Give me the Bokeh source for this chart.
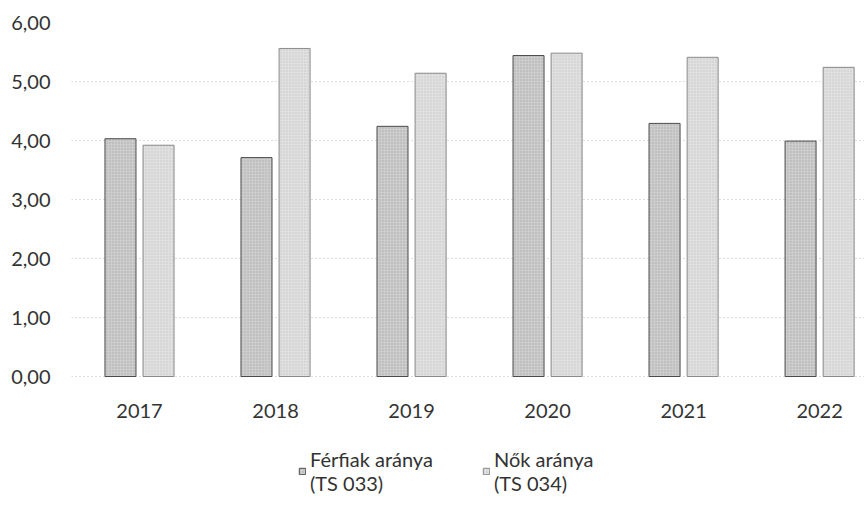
from bokeh.plotting import figure
from bokeh.models import ColumnDataSource, Legend, LegendItem, FixedTicker
from bokeh.core.properties import value
from bokeh.embed import file_html
from bokeh.resources import INLINE

years = ["2017", "2018", "2019", "2020", "2021", "2022"]
ferfiak = [4.03, 3.71, 4.24, 5.44, 4.29, 3.99]
nok = [3.92, 5.56, 5.14, 5.48, 5.41, 5.24]
y_ticks = [0, 1, 2, 3, 4, 5, 6]
y_tick_labels = ["0,00", "1,00", "2,00", "3,00", "4,00", "5,00", "6,00"]
series_labels = ["Férfiak aránya\n(TS 033)", "Nők aránya\n(TS 034)"]

FONT = "Lato"
TXT = "#333333"
OFF = 0.14
BAR_W = 0.228
LABEL_Y = -0.585

idx = list(range(len(years)))
src = ColumnDataSource(dict(
    x=idx,
    xf=[i - OFF for i in idx],
    xn=[i + OFF for i in idx],
    year=years, f=ferfiak, n=nok,
    ly=[LABEL_Y] * len(years),
))

p = figure(x_range=(-0.5, 5.33), y_range=(-2.305, 6.0),
           width=864, height=512, output_backend="svg", toolbar_location=None,
           min_border_left=71, min_border_right=0, min_border_top=22, min_border_bottom=0)

rf = p.vbar(x="xf", top="f", bottom=0, width=BAR_W, source=src,
            fill_color="#cdcdcd", line_color="#4a4a4a", line_width=1,
            hatch_pattern="dot", hatch_scale=3, hatch_color="#6a6a6a", hatch_alpha=0.35)
rn = p.vbar(x="xn", top="n", bottom=0, width=BAR_W, source=src,
            fill_color="#e0e0e0", line_color="#8a8a8a", line_width=1,
            hatch_pattern="dot", hatch_scale=3, hatch_color="#8a8a8a", hatch_alpha=0.3)

p.text(x="x", y="ly", text="year", source=src, text_align="center",
       text_baseline="middle", text_font=value(FONT), text_font_size="20px",
       text_color=TXT)

p.outline_line_color = None
p.xgrid.grid_line_color = None
p.ygrid.grid_line_color = "#bdbdbd"
p.ygrid.grid_line_dash = "1 3"
p.ygrid.grid_line_width = 1

p.xaxis.visible = False

p.yaxis.ticker = FixedTicker(ticks=y_ticks)
p.yaxis.major_label_overrides = {t: l for t, l in zip(y_ticks, y_tick_labels)}
p.yaxis.axis_line_color = None
p.yaxis.major_tick_line_color = None
p.yaxis.minor_tick_line_color = None
p.yaxis.major_label_text_font = FONT
p.yaxis.major_label_text_font_size = "20px"
p.yaxis.major_label_text_color = TXT
p.yaxis.major_label_standoff = 15

legend = Legend(items=[LegendItem(label=series_labels[0], renderers=[rf]),
                       LegendItem(label=series_labels[1], renderers=[rn])],
                orientation="horizontal", location=(227, 17),
                label_text_font=FONT, label_text_font_size="20px",
                label_text_color=TXT, glyph_width=8, glyph_height=8,
                label_standoff=4, border_line_color=None, background_fill_alpha=0,
                spacing=49, margin=0, padding=0)
p.add_layout(legend, "center")

open("out.html", "w").write(file_html(p, INLINE))
